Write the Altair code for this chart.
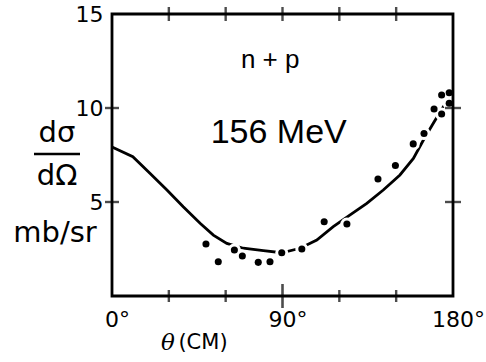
import altair as alt
import pandas as pd

# ---- data ----
curve_theta = [0, 11, 20, 29, 37.6, 46.5, 53.5, 60.6, 69.3, 79.9, 89.6, 99.3, 108.1,
               116.8, 125.7, 134.5, 143.2, 152, 159.1, 164.4, 169.6, 174.9, 180]
curve_val = [7.93, 7.41, 6.53, 5.64, 4.75, 3.87, 3.24, 2.80, 2.54, 2.41, 2.30, 2.54, 2.98,
             3.69, 4.31, 4.93, 5.64, 6.44, 7.32, 8.30, 9.19, 10.07, 10.75]

pt_theta = [49.6, 56.1, 64.6, 68.8, 77.2, 83.4, 89.6, 100.2, 112, 124, 140.4, 149.6,
            159, 164.7, 170, 174, 174, 178, 178]
pt_val = [2.77, 1.82, 2.45, 2.13, 1.79, 1.82, 2.30, 2.50, 3.95, 3.83, 6.22, 6.94,
          8.09, 8.64, 9.95, 9.68, 10.69, 10.81, 10.25]

x_label_values = [0, 90, 180]
y_label_values = [5, 10, 15]
x_minor_ticks = [30, 60, 120, 150]
x_major_ticks = [90]
x_top_ticks = [30, 60, 90, 120, 150]
y_ticks = [5, 10]

W, H = 341, 282
FONT = "Liberation Sans"
LFONT = "DejaVu Sans"

curve_df = pd.DataFrame({"theta": curve_theta, "val": curve_val})
pts_df = pd.DataFrame({"theta": pt_theta, "val": pt_val})

xs = alt.Scale(domain=[0, 180], nice=False, zero=False)
ys = alt.Scale(domain=[0, 15], nice=False, zero=False)

x_axis = alt.Axis(values=x_label_values, labelExpr="datum.value + '°'", title=None,
                  domain=False, ticks=False, tickSize=0, grid=False,
                  labelFont=LFONT, labelFontSize=22, labelColor="black",
                  labelPadding=13, labelOffset=5, labelBound=False, labelOverlap=False,
                  labelFlush=False)
y_axis = alt.Axis(values=y_label_values, title=None, domain=False, ticks=False,
                  tickSize=0, grid=False, labelFont=LFONT, labelFontSize=22,
                  labelColor="black", labelPadding=9, labelBound=False,
                  labelOverlap=False, labelFlush=False)

line = alt.Chart(curve_df).mark_line(color="black", strokeWidth=2.8).encode(
    x=alt.X("theta:Q", scale=xs, axis=x_axis),
    y=alt.Y("val:Q", scale=ys, axis=y_axis),
)

halo = alt.Chart(pts_df).mark_circle(color="white", opacity=1, size=170).encode(
    x="theta:Q", y="val:Q")
dots = alt.Chart(pts_df).mark_circle(color="black", opacity=1, size=50).encode(
    x="theta:Q", y="val:Q")

one = pd.DataFrame({"k": [0]})

frame = alt.Chart(one).mark_rect(
    filled=False, stroke="black", strokeWidth=2.8).encode(
    x=alt.value(0), x2=alt.value(W), y=alt.value(0), y2=alt.value(H))

bt_minor = alt.Chart(pd.DataFrame({"t": x_minor_ticks})).mark_tick(
    color="black", size=12, thickness=2.4, orient="vertical").encode(
    x="t:Q", y=alt.value(H))
bt_major = alt.Chart(pd.DataFrame({"t": x_major_ticks})).mark_tick(
    color="black", size=24, thickness=2.6, orient="vertical").encode(
    x="t:Q", y=alt.value(H))
top_t = alt.Chart(pd.DataFrame({"t": x_top_ticks})).mark_tick(
    color="black", size=14, thickness=2.4, orient="vertical").encode(
    x="t:Q", y=alt.value(0))
left_t = alt.Chart(pd.DataFrame({"t": y_ticks})).mark_tick(
    color="black", size=14, thickness=2.4, orient="horizontal").encode(
    y="t:Q", x=alt.value(0))
right_t = alt.Chart(pd.DataFrame({"t": y_ticks})).mark_tick(
    color="black", size=16, thickness=2.4, orient="horizontal").encode(
    y="t:Q", x=alt.value(W))

txt_np = alt.Chart(one).mark_text(font=FONT, fontSize=26, color="black").encode(
    x=alt.datum(83.5), y=alt.datum(12.55), text=alt.value("n + p"))
txt_e = alt.Chart(one).mark_text(font=FONT, fontSize=34, color="black").encode(
    x=alt.datum(88), y=alt.datum(8.65), text=alt.value("156 MeV"))

t_ds = alt.Chart(one).mark_text(font=LFONT, fontSize=29, color="black").encode(
    x=alt.value(-55), y=alt.value(119), text=alt.value("dσ"))
t_bar = alt.Chart(one).mark_rule(color="black", strokeWidth=2.6).encode(
    x=alt.value(-78), x2=alt.value(-32), y=alt.value(140))
t_dO = alt.Chart(one).mark_text(font=LFONT, fontSize=29, color="black").encode(
    x=alt.value(-55), y=alt.value(162), text=alt.value("dΩ"))
t_unit = alt.Chart(one).mark_text(font=LFONT, fontSize=29, color="black").encode(
    x=alt.value(-57), y=alt.value(219), text=alt.value("mb/sr"))
t_theta = alt.Chart(one).mark_text(font="DejaVu Serif", fontStyle="italic",
                                   fontSize=23, color="black").encode(
    x=alt.value(56), y=alt.value(329), text=alt.value("θ"))
t_cm = alt.Chart(one).mark_text(font=LFONT, fontSize=21, color="black").encode(
    x=alt.value(91), y=alt.value(329), text=alt.value("(CM)"))

chart = alt.layer(
    line, halo, dots, bt_minor, bt_major, top_t, left_t, right_t, frame,
    txt_np, txt_e, t_ds, t_bar, t_dO, t_unit, t_theta, t_cm
).properties(
    width=W, height=H,
    autosize=alt.AutoSizeParams(type="none"),
    padding={"left": 112, "top": 14, "right": 33, "bottom": 66},
).configure_view(stroke=None, clip=False).configure(background="white")

chart.save("out.html", embed_options={"renderer": "svg", "actions": False})
